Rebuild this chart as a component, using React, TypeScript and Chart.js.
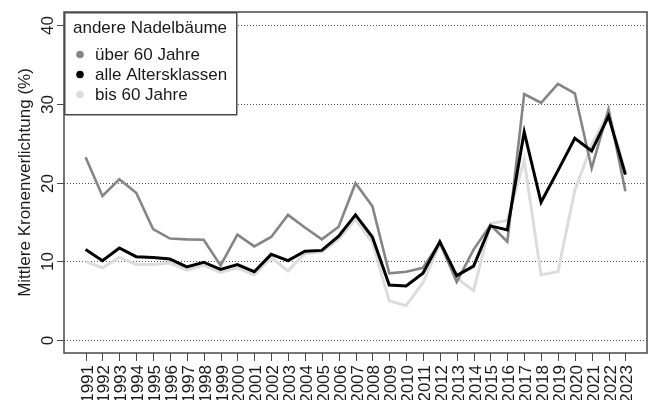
import React, { useEffect, useRef } from "react";
import { Chart, registerables } from "chart.js";

Chart.register(...registerables);

const years = [
  1991, 1992, 1993, 1994, 1995, 1996, 1997, 1998, 1999, 2000, 2001, 2002, 2003,
  2004, 2005, 2006, 2007, 2008, 2009, 2010, 2011, 2012, 2013, 2014, 2015, 2016,
  2017, 2018, 2019, 2020, 2021, 2022, 2023,
];

const ueber60 = [
  23.2, 18.3, 20.4, 18.7, 14.1, 12.9, 12.8, 12.75, 9.5, 13.4, 11.9, 13.1, 15.9,
  14.3, 12.8, 14.4, 19.9, 17.0, 8.5, 8.7, 9.2, 12.4, 7.4, 11.5, 14.6, 12.5,
  31.2, 30.1, 32.5, 31.3, 21.8, 29.3, 18.9,
];

const alle = [
  11.5, 10.1, 11.7, 10.6, 10.5, 10.3, 9.3, 9.9, 9.0, 9.6, 8.7, 10.9, 10.1, 11.3,
  11.4, 13.2, 15.9, 13.1, 7.0, 6.9, 8.5, 12.5, 8.2, 9.4, 14.5, 14.0, 26.4, 17.5,
  21.5, 25.6, 24.0, 28.4, 21.0,
];

const bis60 = [
  10.0, 9.2, 10.5, 9.6, 9.6, 9.8, 8.9, 9.5, 8.6, 9.2, 8.3, 10.5, 8.8, 11.0,
  11.2, 12.8, 15.3, 12.4, 5.0, 4.4, 7.3, 12.2, 7.9, 6.3, 14.8, 15.2, 22.8, 8.3,
  8.7, 19.0, 24.8, 28.8, 21.3,
];

const yTicks = [0, 10, 20, 30, 40];
const legendTitle = "andere Nadelbäume";
const yTitle = "Mittlere Kronenverlichtung (%)";

const FONT = '17px "Liberation Sans", Arial, sans-serif';
const TEXT = "#1a1a1a";
const FRAME = "#4a4a4a";

const toXY = (vals: number[]) => years.map((yr, i) => ({ x: yr, y: vals[i] }));

const decorPlugin = {
  id: "decor",
  beforeDatasetsDraw(chart: any) {
    const { ctx, chartArea } = chart;
    const ys = chart.scales.y;
    ctx.save();
    ctx.strokeStyle = "#555";
    ctx.lineWidth = 1;
    ctx.setLineDash([1, 2]);
    ys.ticks.forEach((t: any) => {
      const py = Math.round(ys.getPixelForValue(t.value)) + 0.5;
      ctx.beginPath();
      ctx.moveTo(chartArea.left, py);
      ctx.lineTo(chartArea.right, py);
      ctx.stroke();
    });
    ctx.restore();
  },
  afterDatasetsDraw(chart: any) {
    const { ctx, chartArea } = chart;
    const xs = chart.scales.x;
    const ys = chart.scales.y;
    ctx.save();

    // legend
    const lx = chartArea.left, ly = chartArea.top, lw = 172, lh = 102;
    ctx.fillStyle = "#fff";
    ctx.fillRect(lx, ly, lw, lh);
    ctx.strokeStyle = FRAME;
    ctx.lineWidth = 1.5;
    ctx.strokeRect(lx + 0.75, ly + 0.75, lw, lh);
    ctx.font = FONT;
    ctx.fillStyle = TEXT;
    ctx.textAlign = "left";
    ctx.textBaseline = "alphabetic";
    ctx.fillText(legendTitle, lx + 9, ly + 21);
    const order = [1, 0, 2];
    order.forEach((di, k) => {
      const ds = chart.data.datasets[di];
      const by = ly + 48 + k * 20;
      ctx.fillStyle = ds.borderColor;
      ctx.beginPath();
      ctx.arc(lx + 16, by - 5.5, 3.8, 0, Math.PI * 2);
      ctx.fill();
      ctx.fillStyle = TEXT;
      ctx.fillText(ds.label, lx + 31, by);
    });

    // frame
    ctx.strokeStyle = FRAME;
    ctx.lineWidth = 1.5;
    ctx.strokeRect(chartArea.left, chartArea.top, chartArea.right - chartArea.left, chartArea.bottom - chartArea.top);

    // y ticks + labels
    ctx.lineWidth = 1;
    ctx.strokeStyle = FRAME;
    ys.ticks.forEach((t: any) => {
      const py = Math.round(ys.getPixelForValue(t.value)) + 0.5;
      ctx.beginPath();
      ctx.moveTo(chartArea.left - 7, py);
      ctx.lineTo(chartArea.left, py);
      ctx.stroke();
      ctx.save();
      ctx.translate(chartArea.left - 11, py);
      ctx.rotate(-Math.PI / 2);
      ctx.fillStyle = TEXT;
      ctx.textAlign = "center";
      ctx.textBaseline = "alphabetic";
      ctx.fillText(String(t.value), 0, 0);
      ctx.restore();
    });

    // x ticks + labels
    xs.ticks.forEach((t: any) => {
      const px = Math.round(xs.getPixelForValue(t.value)) + 0.5;
      ctx.beginPath();
      ctx.moveTo(px, chartArea.bottom);
      ctx.lineTo(px, chartArea.bottom + 8);
      ctx.stroke();
      ctx.save();
      ctx.translate(px + 6, chartArea.bottom + 12);
      ctx.rotate(-Math.PI / 2);
      ctx.fillStyle = TEXT;
      ctx.textAlign = "right";
      ctx.textBaseline = "alphabetic";
      ctx.fillText(String(t.value), 0, 0);
      ctx.restore();
    });

    // y title
    ctx.save();
    ctx.translate(30, (chartArea.top + chartArea.bottom) / 2);
    ctx.rotate(-Math.PI / 2);
    ctx.fillStyle = TEXT;
    ctx.textAlign = "center";
    ctx.textBaseline = "alphabetic";
    ctx.fillText(yTitle, 0, 0);
    ctx.restore();

    ctx.restore();
  },
};

export default function App() {
  const ref = useRef<HTMLCanvasElement>(null);
  useEffect(() => {
    if (!ref.current) return;
    const chart = new Chart(ref.current, {
      type: "line",
      data: {
        datasets: [
          { label: "alle Altersklassen", data: toXY(alle), borderColor: "#000000", borderWidth: 3, pointRadius: 0, order: 0, tension: 0 },
          { label: "über 60 Jahre", data: toXY(ueber60), borderColor: "#858585", borderWidth: 2.6, pointRadius: 0, order: 1, tension: 0 },
          { label: "bis 60 Jahre", data: toXY(bis60), borderColor: "#dcdcdc", borderWidth: 3, pointRadius: 0, order: 2, tension: 0 },
        ],
      },
      options: {
        responsive: false,
        animation: false,
        layout: { padding: { top: 12, right: 3, left: 0, bottom: 0 } },
        plugins: { legend: { display: false }, tooltip: { enabled: false }, title: { display: false } },
        scales: {
          x: {
            type: "linear",
            min: 1989.72,
            max: 2024.28,
            afterBuildTicks: (s: any) => { s.ticks = years.map((v) => ({ value: v })); },
            afterFit: (s: any) => { s.height = 47; },
            ticks: { display: false },
            grid: { display: false },
            border: { display: false },
          },
          y: {
            type: "linear",
            min: -1.6,
            max: 41.6,
            afterBuildTicks: (s: any) => { s.ticks = yTicks.map((v) => ({ value: v })); },
            afterFit: (s: any) => { s.width = 64; },
            ticks: { display: false },
            grid: { display: false },
            border: { display: false },
          },
        },
      },
      plugins: [decorPlugin],
    });
    return () => chart.destroy();
  }, []);
  return (
    <div style={{ position: "fixed", left: 0, top: 0, width: 650, height: 400, background: "#fff" }}>
      <canvas ref={ref} width={650} height={400} />
    </div>
  );
}
